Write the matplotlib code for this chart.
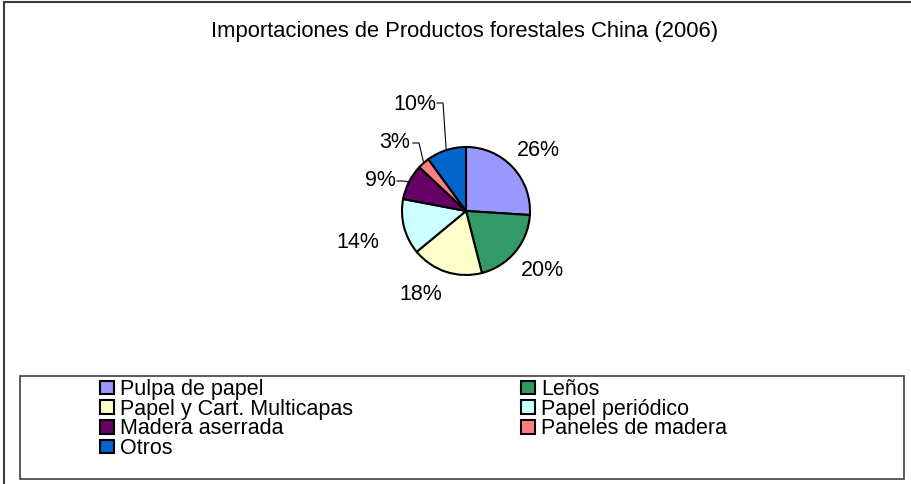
import matplotlib
matplotlib.use("Agg")
import matplotlib.pyplot as plt
from matplotlib.patches import Rectangle
import numpy as np

plt.rcParams['font.family'] = ['Liberation Sans', 'DejaVu Sans']

title = "Importaciones de Productos forestales China (2006)"
categories = ["Pulpa de papel", "Leños", "Papel y Cart. Multicapas", "Papel periódico",
              "Madera aserrada", "Paneles de madera", "Otros"]
values = [26, 20, 18, 14, 9, 3, 10]
colors = ["#9999FF", "#339966", "#FFFFCC", "#CCFFFF", "#660066", "#FF8080", "#0066CC"]

W, H = 911, 484
fig = plt.figure(figsize=(W / 100, H / 100), dpi=100)
ax = fig.add_axes([0, 0, 1, 1])

# pie geometry in pixel units (y up)
cx, cy, r = 466, H - 211, 64
wedges, _, autotexts = ax.pie(values, colors=colors, startangle=90, counterclock=False,
                              center=(cx, cy), radius=r, autopct='%d%%', pctdistance=1.5,
                              wedgeprops=dict(edgecolor='black', linewidth=1.5))
ax.set_xlim(0, W)
ax.set_ylim(0, H)
ax.set_aspect('auto')
ax.axis('off')

# label positions (pixel, y down) and leader lines
label_pos = [(538, 150), (542, 270), (421, 295), (358, 242), (380, 181), (395, 143), (415, 104)]
for t, (px, py) in zip(autotexts, label_pos):
    t.set_position((px, H - py))
    t.set_fontsize(15.5)
    t.set_ha('center')
    t.set_va('center')

leader_start = {6: (437, 103), 5: (413, 143), 4: (397, 181)}
for i, (sx, sy) in leader_start.items():
    w = wedges[i]
    mid = np.deg2rad((w.theta1 + w.theta2) / 2)
    ex, ey = cx + r * np.cos(mid), cy + r * np.sin(mid)
    ax.plot([sx, sx + 6, ex], [H - sy, H - sy, ey], color='black', lw=0.8,
            solid_joinstyle='miter')

ax.text(465, H - 32, title, ha='center', va='center', fontsize=15.8)

# outer chart frame and legend frame
ax.add_patch(Rectangle((3.5, -20), W + 20, H - 2 - (-20), fill=False,
                       edgecolor='#3a3a3a', lw=1.5, clip_on=False))
ax.add_patch(Rectangle((20, H - 479), 884, 103, fill=False, edgecolor='#404040', lw=1.2))

leg_kw = dict(loc='upper left', bbox_transform=ax.transData, frameon=False, borderpad=0,
              fontsize=15.5, handlelength=0.65, handleheight=0.6, handletextpad=0.3,
              labelspacing=-0.06, borderaxespad=0)
col1 = [0, 2, 4, 6]
col2 = [1, 3, 5]
leg1 = ax.legend([wedges[i] for i in col1], [categories[i] for i in col1],
                 bbox_to_anchor=(100, H - 379), **leg_kw)
ax.add_artist(leg1)
leg2 = ax.legend([wedges[i] for i in col2], [categories[i] for i in col2],
                 bbox_to_anchor=(521, H - 379), **leg_kw)

fig.savefig("out.png", dpi=100)
